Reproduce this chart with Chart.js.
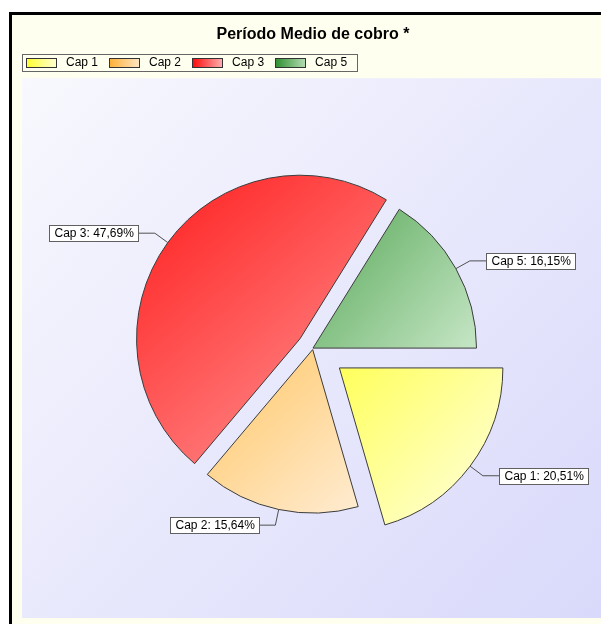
<!DOCTYPE html>
<html>
<head>
<meta charset="utf-8">
<script src="https://cdn.jsdelivr.net/npm/chart.js@4.4.0/dist/chart.umd.min.js"></script>
<style>
  html, body { margin: 0; padding: 0; overflow: hidden; background: #fff; }
  #wrap { position: relative; width: 611px; height: 624px; }
</style>
</head>
<body>
<div id="wrap"><canvas id="chart-pmc"></canvas></div>
<script>
// datos del gráfico
const TITLE = 'Período Medio de cobro *';
const CATS = ['Cap 1', 'Cap 2', 'Cap 3', 'Cap 5'];
const PCT = [20.51, 15.64, 47.69, 16.15];

// estilo
const FONT = "'Liberation Sans', Arial, sans-serif";
const DARK = ['#ffff5c', '#ffc664', '#ff1c1c', '#58a858'];
const LIGHT = ['#ffffe2', '#ffecd2', '#ff9a9a', '#c6e6c6'];
const SW_DARK = ['#ffff30', '#ffb038', '#ff0a0a', '#2f8f2f'];
const SW_LIGHT = ['#ffffd6', '#ffe6c4', '#ffb0b0', '#b4dcb4'];
const EXPLODE = [33, 1.5, 16, 0];
const RADIUS = 163.5;
const PLOT_LEFT = 22;

const fmt = v => v.toFixed(2).replace('.', ',') + '%';

// degradado según la caja de cada porción
function sliceGradient(chart, i) {
  const ca = chart.chartArea;
  if (!ca) return DARK[i];
  const total = PCT.reduce((a, b) => a + b, 0);
  let acc = 0;
  for (let k = 0; k < i; k++) acc += PCT[k];
  const a0 = acc / total * Math.PI * 2, a1 = (acc + PCT[i]) / total * Math.PI * 2;
  const mid = (a0 + a1) / 2;
  const cx = (ca.left + ca.right) / 2 + Math.cos(mid) * EXPLODE[i];
  const cy = (ca.top + ca.bottom) / 2 + Math.sin(mid) * EXPLODE[i];
  const pts = [[cx, cy], [cx + RADIUS * Math.cos(a0), cy + RADIUS * Math.sin(a0)], [cx + RADIUS * Math.cos(a1), cy + RADIUS * Math.sin(a1)]];
  for (let k = 0; k <= 4; k++) {
    const a = k * Math.PI / 2;
    if (a > a0 && a < a1) pts.push([cx + RADIUS * Math.cos(a), cy + RADIUS * Math.sin(a)]);
  }
  const xs = pts.map(p => p[0]), ys = pts.map(p => p[1]);
  const g = chart.ctx.createLinearGradient(Math.min(...xs), Math.min(...ys), Math.max(...xs), Math.max(...ys));
  g.addColorStop(0, DARK[i]);
  g.addColorStop(1, LIGHT[i]);
  return g;
}

const framePlugin = {
  id: 'frame',
  beforeDraw(chart) {
    const { ctx, width, height, chartArea: ca } = chart;
    ctx.save();
    ctx.fillStyle = '#ffffff';
    ctx.fillRect(0, 0, width, height);
    ctx.fillStyle = '#000000';
    ctx.fillRect(9, 12, width, 3);
    ctx.fillRect(9, 12, 3, height);
    ctx.fillStyle = '#fffff0';
    ctx.fillRect(12, 15, width, height);
    const g = ctx.createLinearGradient(PLOT_LEFT, ca.top, 601, ca.bottom);
    g.addColorStop(0, '#f8f8fe');
    g.addColorStop(1, '#d9d9fb');
    ctx.fillStyle = g;
    ctx.fillRect(PLOT_LEFT, ca.top, ca.right - PLOT_LEFT, ca.bottom - ca.top);
    ctx.restore();
  },
  afterDraw(chart) {
    const lg = chart.legend, ctx = chart.ctx;
    if (!lg || !lg.legendHitBoxes.length) return;
    const hb = lg.legendHitBoxes;
    ctx.save();
    hb.forEach((b, i) => {
      const y = Math.round(b.top + b.height / 2 - 4.5) + 0.5, x = Math.round(b.left) + 0.5;
      const g = ctx.createLinearGradient(x, 0, x + 30, 0);
      g.addColorStop(0, SW_DARK[i]);
      g.addColorStop(1, SW_LIGHT[i]);
      ctx.fillStyle = g;
      ctx.fillRect(x, y, 30, 9);
      ctx.strokeStyle = '#333333';
      ctx.lineWidth = 1;
      ctx.strokeRect(x, y, 30, 9);
    });
    const last = hb[hb.length - 1];
    const cy = hb[0].top + hb[0].height / 2;
    const l = Math.round(hb[0].left - 4) + 0.5, r = Math.round(last.left + last.width + 10) + 0.5;
    const t = Math.round(cy - 8.5) + 0.5, btm = Math.round(cy + 8.5) + 0.5;
    ctx.strokeStyle = '#666666';
    ctx.strokeRect(l, t, r - l, btm - t);
    ctx.restore();
  }
};

// separa las porciones del centro
const explodePlugin = {
  id: 'explode',
  afterDatasetsUpdate(chart) {
    chart.getDatasetMeta(0).data.forEach((arc, i) => {
      const mid = (arc.startAngle + arc.endAngle) / 2;
      arc.x += Math.cos(mid) * EXPLODE[i];
      arc.y += Math.sin(mid) * EXPLODE[i];
    });
  }
};

// etiquetas con línea guía
const calloutPlugin = {
  id: 'callout',
  afterDatasetsDraw(chart) {
    const ctx = chart.ctx;
    ctx.save();
    ctx.font = '12px ' + FONT;
    ctx.textBaseline = 'middle';
    chart.getDatasetMeta(0).data.forEach((arc, i) => {
      const mid = (arc.startAngle + arc.endAngle) / 2;
      const c = Math.cos(mid), s = Math.sin(mid);
      const x0 = arc.x + c * arc.outerRadius, y0 = arc.y + s * arc.outerRadius;
      const x1 = x0 + c * 16, y1 = y0 + s * 16;
      const dir = c >= 0 ? 1 : -1;
      const x2 = x1 + dir * 16.5;
      const txt = CATS[i] + ': ' + fmt(PCT[i]);
      const w = Math.round(ctx.measureText(txt).width + 10), h = 16;
      ctx.strokeStyle = '#505050';
      ctx.lineWidth = 1;
      ctx.beginPath();
      ctx.moveTo(x0, y0); ctx.lineTo(x1, y1); ctx.lineTo(x2, y1);
      ctx.stroke();
      const bx = Math.round(dir > 0 ? x2 : x2 - w) + 0.5, by = Math.round(y1 - h / 2) + 0.5;
      ctx.fillStyle = '#ffffff';
      ctx.fillRect(bx, by, w, h);
      ctx.strokeStyle = '#606060';
      ctx.strokeRect(bx, by, w, h);
      ctx.fillStyle = '#000000';
      ctx.fillText(txt, bx + 5, by + h / 2 + 0.5);
    });
    ctx.restore();
  }
};

new Chart(document.getElementById('chart-pmc'), {
  type: 'pie',
  data: {
    labels: CATS,
    datasets: [{
      data: PCT,
      backgroundColor: (c) => sliceGradient(c.chart, c.dataIndex),
      borderColor: '#3c3c3c',
      borderWidth: 1,
      radius: RADIUS,
      rotation: 90,
    }]
  },
  options: {
    responsive: true, maintainAspectRatio: false, animation: false, events: [],
    layout: { padding: { left: 15, right: 0, top: 14, bottom: 6 } },
    plugins: {
      title: { display: true, text: TITLE, color: '#000', font: { family: FONT, size: 16, weight: 'bold' }, padding: { top: 11, bottom: 1 } },
      legend: {
        display: true, position: 'top', align: 'start',
        labels: {
          boxWidth: 34, boxHeight: 9, padding: 11, color: '#000', font: { family: FONT, size: 12 },
          generateLabels: () => CATS.map((t, i) => ({ text: t, fillStyle: 'rgba(0,0,0,0)', strokeStyle: 'rgba(0,0,0,0)', lineWidth: 0, hidden: false, index: i, fontColor: '#000' }))
        }
      },
      tooltip: { enabled: false },
    }
  },
  plugins: [framePlugin, explodePlugin, calloutPlugin]
});
</script>
</body>
</html>
